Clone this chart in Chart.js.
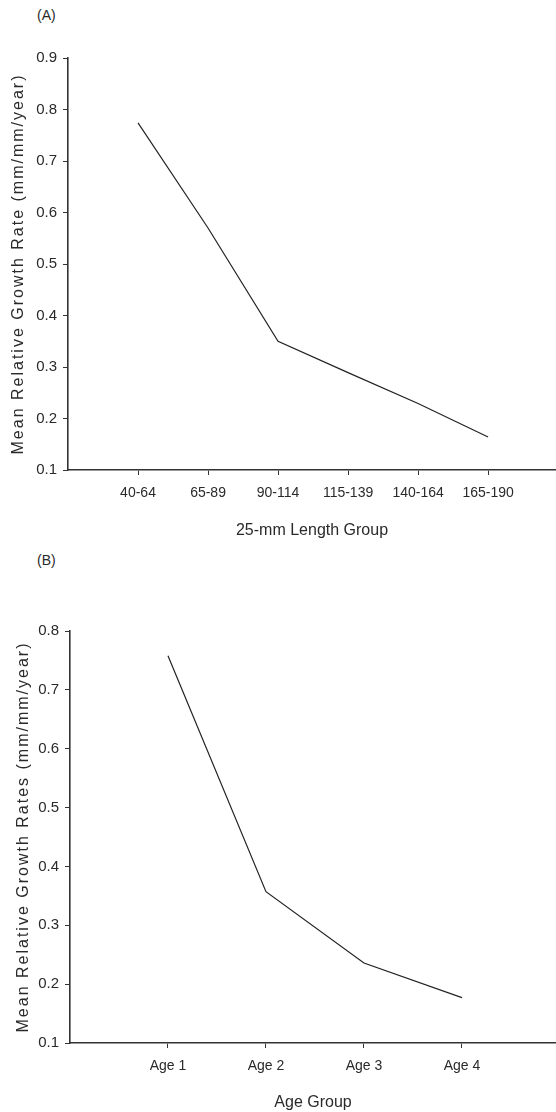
<!DOCTYPE html>
<html>
<head>
<meta charset="utf-8">
<script src="https://cdn.jsdelivr.net/npm/chart.js@4.4.1/dist/chart.umd.min.js"></script>
<style>
  body { margin: 0; background: #fff; }
  .page { position: relative; width: 556px; height: 1112px; overflow: hidden; }
  .panel { position: absolute; left: 0; width: 556px; height: 556px; }
  #panelA { top: 0; }
  #panelB { top: 556px; }
  .tag { position: absolute; left: 37px; font: 14px "Liberation Sans", Arial, sans-serif; color: #2a2a2a; }
</style>
</head>
<body>
<div class="page">
  <div class="tag" style="top:7px">(A)</div>
  <div class="tag" style="top:552px">(B)</div>
  <div class="panel" id="panelA"><canvas id="chartA"></canvas></div>
  <div class="panel" id="panelB"><canvas id="chartB"></canvas></div>
</div>
<script>
// (A) growth rate by 25-mm length group
const lengthGroups = ['40-64', '65-89', '90-114', '115-139', '140-164', '165-190'];
const lengthRates = [0.774, 0.570, 0.350, 0.289, 0.229, 0.164];

// (B) growth rate by age group
const ageGroups = ['Age 1', 'Age 2', 'Age 3', 'Age 4'];
const ageRates = [0.758, 0.357, 0.236, 0.177];

const yTicksA = [0.1, 0.2, 0.3, 0.4, 0.5, 0.6, 0.7, 0.8, 0.9];
const yTicksB = [0.1, 0.2, 0.3, 0.4, 0.5, 0.6, 0.7, 0.8];

const ink = '#2a2a2a';
const fontFamily = '"Liberation Sans", Arial, sans-serif';

// rotated y title with wide letter spacing like the original
const yTitlePlugin = {
    id: 'yTitle',
    afterDraw(chart, args, opts) {
        const { ctx, chartArea } = chart;
        ctx.save();
        ctx.translate(opts.x, (chartArea.top + chartArea.bottom) / 2);
        ctx.rotate(-Math.PI / 2);
        ctx.font = '16px ' + fontFamily;
        ctx.letterSpacing = '2px';
        ctx.fillStyle = ink;
        ctx.textAlign = 'center';
        ctx.textBaseline = 'middle';
        ctx.fillText(opts.text, 0, 0);
        ctx.restore();
    }
};

function makeChart(id, cats, values, yTicks, cfg) {
    const ctx = document.getElementById(id).getContext('2d');
    return new Chart(ctx, {
        type: 'line',
        data: {
            datasets: [{
                data: values.map((v, i) => ({ x: i + 1, y: v })),
                borderColor: '#222',
                borderWidth: 1.2,
                pointRadius: 0,
                tension: 0,
                fill: false
            }]
        },
        options: {
            responsive: true,
            maintainAspectRatio: false,
            animation: false,
            layout: { padding: { top: cfg.top, left: 0, right: 0, bottom: 0 } },
            plugins: {
                legend: { display: false },
                tooltip: { enabled: false },
                yTitle: { text: cfg.yTitle, x: cfg.yTitleX }
            },
            scales: {
                x: {
                    type: 'linear',
                    min: 0,
                    max: cfg.xMax,
                    afterBuildTicks: (scale) => {
                        scale.ticks = cats.map((c, i) => ({ value: i + 1 }));
                    },
                    afterFit: (scale) => { scale.height = cfg.xHeight; },
                    ticks: {
                        color: ink,
                        font: { family: fontFamily, size: 14 },
                        padding: 10,
                        maxRotation: 0,
                        autoSkip: false,
                        callback: (v) => cats[v - 1]
                    },
                    grid: { drawOnChartArea: false, drawTicks: true, tickLength: 5, color: '#333' },
                    border: { display: true, color: '#333', width: 1.6 },
                    title: {
                        display: true,
                        text: cfg.xTitle,
                        color: ink,
                        font: { family: fontFamily, size: 16 },
                        padding: { top: 0, bottom: cfg.xTitlePad }
                    }
                },
                y: {
                    min: yTicks[0],
                    max: yTicks[yTicks.length - 1],
                    afterBuildTicks: (scale) => {
                        scale.ticks = yTicks.map(v => ({ value: v }));
                    },
                    afterFit: (scale) => { scale.width = cfg.axisX; },
                    ticks: {
                        color: ink,
                        font: { family: fontFamily, size: 15 },
                        padding: 6,
                        callback: (v) => v.toFixed(1)
                    },
                    grid: { drawOnChartArea: false, drawTicks: true, tickLength: 5, color: '#333' },
                    border: { display: true, color: '#333', width: 1.6 }
                }
            }
        },
        plugins: [yTitlePlugin]
    });
}

makeChart('chartA', lengthGroups, lengthRates, yTicksA, {
    top: 58, axisX: 68, xMax: 6.97, xHeight: 86, xTitlePad: 16,
    xTitle: '25-mm Length Group',
    yTitle: 'Mean Relative Growth Rate (mm/mm/year)', yTitleX: 19
});

makeChart('chartB', ageGroups, ageRates, yTicksB, {
    top: 75, axisX: 70, xMax: 4.96, xHeight: 69, xTitlePad: 0,
    xTitle: 'Age Group',
    yTitle: 'Mean Relative Growth Rates (mm/mm/year)', yTitleX: 24
});
</script>
</body>
</html>
